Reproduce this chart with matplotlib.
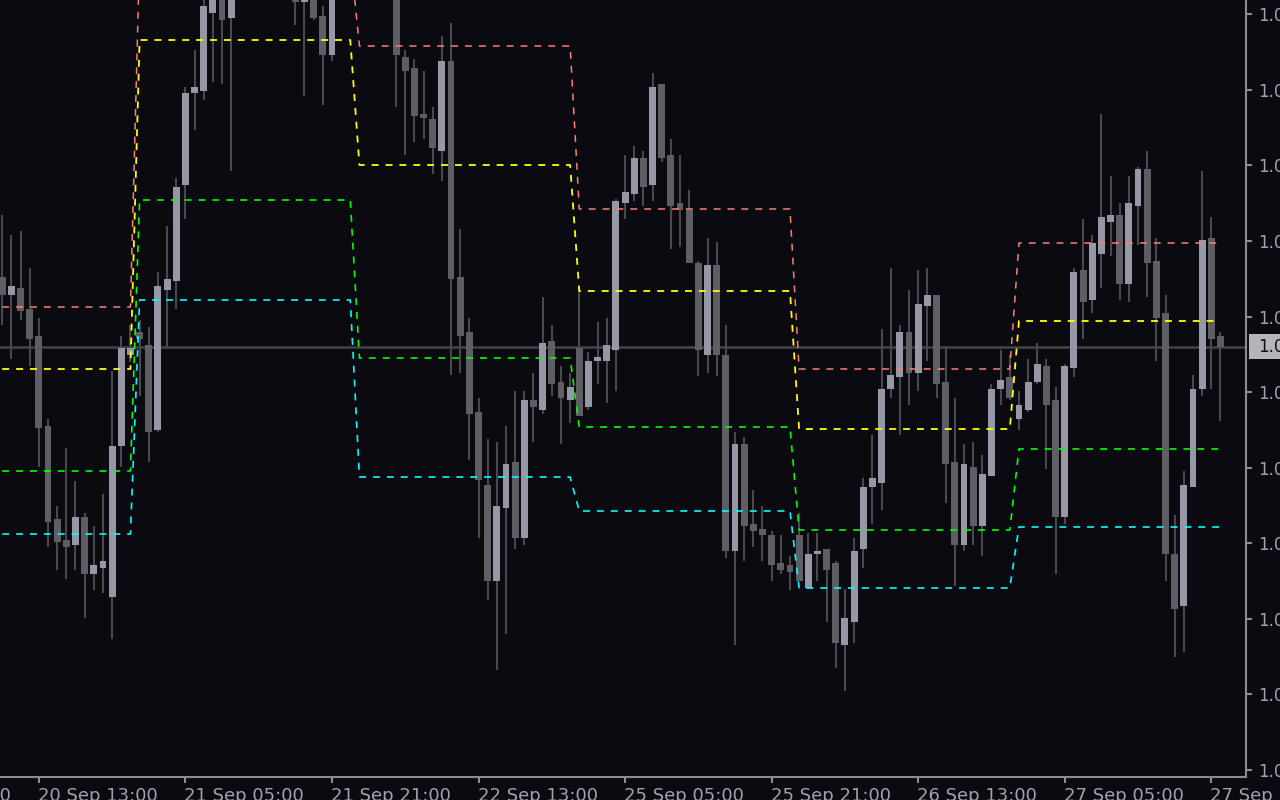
import numpy as np
import matplotlib
matplotlib.use("Agg")
import matplotlib.pyplot as plt
import matplotlib.patches as patches
from matplotlib.transforms import blended_transform_factory

# hourly candles, bar 0 = 20 Sep 09:00
opens = [1.08023, 1.08005, 1.08012, 1.07991, 1.07964, 1.07874, 1.07781, 1.07760, 1.07755, 1.07783,
         1.07726, 1.07732, 1.07703, 1.07854, 1.07945, 1.07968, 1.07955, 1.07870, 1.08010, 1.08019,
         1.08115, 1.08207, 1.08209, 1.08287, 1.08306, 1.08282, 1.08308, 1.08326, 1.08341, 1.08330,
         1.08319, 1.08337, 1.08320, 1.08298, 1.08312, 1.08284, 1.08245, 1.08305, 1.08329, 1.08344,
         1.08327, 1.08318, 1.08338, 1.08310, 1.08243, 1.08232, 1.08186, 1.08181, 1.08149, 1.08239,
         1.08023, 1.07968, 1.07888, 1.07815, 1.07719, 1.07792, 1.07838, 1.07762, 1.07900, 1.07890,
         1.07959, 1.07918, 1.07900, 1.07952, 1.07893, 1.07939, 1.07939, 1.07950, 1.08097, 1.08106,
         1.08142, 1.08115, 1.08216, 1.08145, 1.08097, 1.08090, 1.08037, 1.07945, 1.08035, 1.07945,
         1.07749, 1.07856, 1.07776, 1.07771, 1.07765, 1.07737, 1.07735, 1.07765, 1.07712, 1.07746,
         1.07751, 1.07737, 1.07655, 1.07678, 1.07751, 1.07813, 1.07817, 1.07911, 1.07923, 1.07968,
         1.07927, 1.07994, 1.08005, 1.07918, 1.07838, 1.07755, 1.07833, 1.07774, 1.07824, 1.07911,
         1.07923, 1.07881, 1.07890, 1.07918, 1.07934, 1.07900, 1.07783, 1.07932, 1.08030, 1.08000,
         1.08046, 1.08078, 1.08085, 1.08016, 1.08094, 1.08131, 1.08039, 1.07987, 1.07746, 1.07694,
         1.07813, 1.07911, 1.08062, 1.07964]
highs = [1.08085, 1.08065, 1.08069, 1.08032, 1.07982, 1.07881, 1.07794, 1.07852, 1.07819, 1.07787,
         1.07774, 1.07806, 1.07929, 1.07964, 1.07975, 1.07980, 1.07973, 1.08028, 1.08074, 1.08122,
         1.08213, 1.08250, 1.08304, 1.08318, 1.08314, 1.08320, 1.08335, 1.08352, 1.08360, 1.08348,
         1.08345, 1.08350, 1.08330, 1.08325, 1.08322, 1.08294, 1.08310, 1.08336, 1.08358, 1.08362,
         1.08340, 1.08347, 1.08352, 1.08320, 1.08250, 1.08241, 1.08229, 1.08193, 1.08264, 1.08277,
         1.08071, 1.07982, 1.07902, 1.07861, 1.07858, 1.07874, 1.07909, 1.07909, 1.07927, 1.08003,
         1.07975, 1.07934, 1.07927, 1.08014, 1.07948, 1.07978, 1.07982, 1.08101, 1.08145, 1.08154,
         1.08149, 1.08227, 1.08216, 1.08161, 1.08145, 1.08110, 1.08039, 1.08062, 1.08058, 1.07975,
         1.07868, 1.07863, 1.07810, 1.07794, 1.07769, 1.07765, 1.07744, 1.07787, 1.07767, 1.07767,
         1.07751, 1.07739, 1.07711, 1.07762, 1.07822, 1.07865, 1.07971, 1.08032, 1.07975, 1.08010,
         1.08030, 1.08032, 1.08005, 1.07952, 1.07902, 1.07856, 1.07858, 1.07845, 1.07916, 1.07950,
         1.07945, 1.07909, 1.07941, 1.07957, 1.07941, 1.07913, 1.07936, 1.08032, 1.08081, 1.08065,
         1.08186, 1.08124, 1.08097, 1.08124, 1.08133, 1.08149, 1.08062, 1.08005, 1.07785, 1.07829,
         1.07925, 1.08129, 1.08083, 1.07968]
lows = [1.07975, 1.07941, 1.07980, 1.07934, 1.07833, 1.07753, 1.07730, 1.07721, 1.07730, 1.07682,
        1.07710, 1.07707, 1.07661, 1.07833, 1.07938, 1.07904, 1.07838, 1.07868, 1.07953, 1.07991,
        1.08081, 1.08170, 1.08200, 1.08218, 1.08216, 1.08129, 1.08302, 1.08318, 1.08322, 1.08310,
        1.08308, 1.08312, 1.08275, 1.08204, 1.08280, 1.08195, 1.08239, 1.08301, 1.08315, 1.08320,
        1.08306, 1.08309, 1.08305, 1.08193, 1.08145, 1.08158, 1.08161, 1.08126, 1.08119, 1.07925,
        1.07927, 1.07840, 1.07762, 1.07700, 1.07630, 1.07666, 1.07751, 1.07755, 1.07858, 1.07886,
        1.07904, 1.07856, 1.07877, 1.07884, 1.07890, 1.07916, 1.07897, 1.07909, 1.08081, 1.08099,
        1.08094, 1.08099, 1.08138, 1.08051, 1.08053, 1.08037, 1.07924, 1.07927, 1.07924, 1.07742,
        1.07655, 1.07739, 1.07753, 1.07739, 1.07719, 1.07726, 1.07710, 1.07719, 1.07712, 1.07719,
        1.07678, 1.07632, 1.07609, 1.07657, 1.07732, 1.07776, 1.07790, 1.07902, 1.07865, 1.07895,
        1.07909, 1.07939, 1.07902, 1.07797, 1.07714, 1.07749, 1.07755, 1.07744, 1.07824, 1.07895,
        1.07900, 1.07870, 1.07888, 1.07916, 1.07831, 1.07726, 1.07776, 1.07923, 1.07961, 1.07987,
        1.08012, 1.08044, 1.08000, 1.07998, 1.08055, 1.08003, 1.07939, 1.07719, 1.07643, 1.07648,
        1.07813, 1.07904, 1.07911, 1.07879]
closes = [1.08005, 1.08014, 1.07989, 1.07961, 1.07872, 1.07778, 1.07758, 1.07753, 1.07783, 1.07726,
          1.07735, 1.07739, 1.07854, 1.07952, 1.07952, 1.07961, 1.07868, 1.08014, 1.08021, 1.08113,
          1.08207, 1.08213, 1.08294, 1.08310, 1.08280, 1.08308, 1.08326, 1.08341, 1.08330, 1.08319,
          1.08337, 1.08320, 1.08298, 1.08315, 1.08282, 1.08245, 1.08305, 1.08329, 1.08344, 1.08327,
          1.08318, 1.08338, 1.08310, 1.08245, 1.08229, 1.08184, 1.08182, 1.08152, 1.08239, 1.08021,
          1.07964, 1.07886, 1.07820, 1.07719, 1.07794, 1.07836, 1.07762, 1.07900, 1.07893, 1.07957,
          1.07916, 1.07902, 1.07913, 1.07884, 1.07939, 1.07943, 1.07955, 1.08099, 1.08108, 1.08142,
          1.08113, 1.08213, 1.08142, 1.08094, 1.08090, 1.08037, 1.07950, 1.08035, 1.07945, 1.07749,
          1.07856, 1.07774, 1.07769, 1.07765, 1.07735, 1.07730, 1.07728, 1.07719, 1.07746, 1.07749,
          1.07730, 1.07657, 1.07682, 1.07749, 1.07813, 1.07822, 1.07911, 1.07925, 1.07968, 1.07927,
          1.07996, 1.08005, 1.07916, 1.07836, 1.07755, 1.07836, 1.07774, 1.07826, 1.07911, 1.07920,
          1.07902, 1.07895, 1.07918, 1.07936, 1.07895, 1.07783, 1.07934, 1.08028, 1.07998, 1.08057,
          1.08083, 1.08085, 1.08016, 1.08097, 1.08131, 1.08037, 1.07982, 1.07746, 1.07691, 1.07815,
          1.07911, 1.08060, 1.07961, 1.07953]

# daily pivot levels, bars per day
day_bars = [15, 24, 24, 24, 24, 23]
level_r1 = [1.07993, 1.08345, 1.08254, 1.08091, 1.07931, 1.08057]
level_pp = [1.07931, 1.08260, 1.08135, 1.08009, 1.07871, 1.07979]
level_s1 = [1.07829, 1.08100, 1.07942, 1.07873, 1.07770, 1.07851]
level_s2 = [1.07766, 1.08000, 1.07823, 1.07789, 1.07712, 1.07773]

bid = 1.07953

time_ticks = [-12, 4, 20, 36, 52, 68, 84, 100, 116, 132]
time_labels = ["19 Sep 21:00", "20 Sep 13:00", "21 Sep 05:00", "21 Sep 21:00", "22 Sep 13:00",
               "25 Sep 05:00", "25 Sep 21:00", "26 Sep 13:00", "27 Sep 05:00", "27 Sep 21:00"]
price_ticks = [1.08286, 1.08210, 1.08135, 1.08059, 1.07983, 1.07908, 1.07832,
               1.07757, 1.07681, 1.07606, 1.07530]

bg = '#0a0a10'
axis_col = '#8c8c96'
text_col = '#a0a2b0'
plt.rcParams['lines.scale_dashes'] = False

fig = plt.figure(figsize=(12.8, 8), dpi=100, facecolor=bg)
ax = fig.add_axes([0, 23 / 800, 1246 / 1280, 777 / 800])
ax.set_facecolor(bg)

o = np.array(opens)
h = np.array(highs)
l = np.array(lows)
c = np.array(closes)
x = np.arange(len(o))
up = c >= o

ax.axhline(bid, color='#44444c', lw=1.8, zorder=1)

# candles
ax.vlines(x, l, h, color='#48484e', lw=1.5, zorder=2)
body_lo = np.minimum(o, c)
body_h = np.maximum(np.abs(c - o), 0.000012)
ax.bar(x[up], body_h[up], bottom=body_lo[up], width=0.75, color='#9698a5', lw=0, zorder=3)
ax.bar(x[~up], body_h[~up], bottom=body_lo[~up], width=0.75, color='#5e5e64', lw=0, zorder=3)

# pivot lines
for levels, col, lw in [(level_r1, '#fa8072', 1.1), (level_pp, '#ffff00', 1.3),
                        (level_s1, '#00ff00', 1.2), (level_s2, '#00ffff', 1.2)]:
    series = np.repeat(levels, day_bars)
    ax.plot(x, series, color=col, lw=lw, dashes=(5, 5), zorder=4)

ax.set_xlim(-2.2 / 9.16, (1246 - 2.2) / 9.16)
ax.set_ylim(1.07523, 1.08300)

for side in ['left', 'top']:
    ax.spines[side].set_visible(False)
for side in ['right', 'bottom']:
    ax.spines[side].set_color(axis_col)
    ax.spines[side].set_linewidth(1.5)

ax.set_xticks([t for t in time_ticks if t >= 0])
ax.set_xticklabels([])
ax.tick_params(axis='x', colors=axis_col, length=4.5, width=1.5, direction='out')
for t, lab in zip(time_ticks, time_labels):
    ax.annotate(lab, xy=(t, 0), xycoords=('data', 'axes fraction'),
                xytext=(-1, -10), textcoords='offset pixels',
                ha='left', va='top', fontsize=13, color=text_col, annotation_clip=False)

ax.yaxis.tick_right()
ax.set_yticks(price_ticks)
ax.set_yticklabels([f"{p:.5f}" for p in price_ticks])
ax.tick_params(axis='y', colors=axis_col, labelcolor=text_col, length=4.5, width=1.5,
               direction='out', pad=4.5, labelsize=12)

# current price tag
tr = blended_transform_factory(ax.transAxes, ax.transData)
ax.add_patch(patches.Rectangle((1249 / 1246, bid - 0.000125), 0.03, 0.00025, transform=tr,
                               facecolor='#b4b4bc', edgecolor='none', clip_on=False, zorder=10))
ax.text(1258 / 1246, bid, f"{bid:.5f}", transform=tr, ha='left', va='center',
        fontsize=12, color='#101014', clip_on=False, zorder=11)

fig.savefig('out.png', dpi=100, facecolor=bg)
